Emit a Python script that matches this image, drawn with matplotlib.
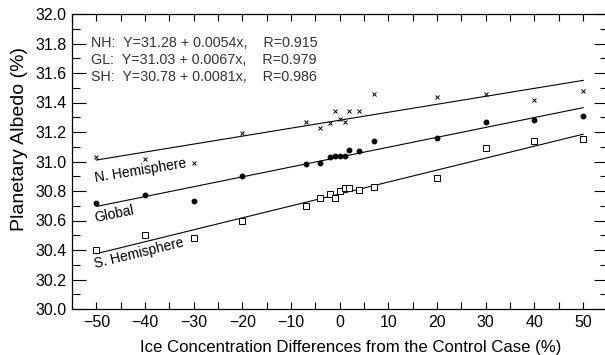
import numpy as np
import matplotlib
matplotlib.use('Agg')
import matplotlib.pyplot as plt
from matplotlib.ticker import MultipleLocator

plt.rcParams['font.family'] = ['Liberation Sans', 'DejaVu Sans']

# ice concentration change (%) for each experiment
ice_diff = [-50, -40, -30, -20, -7, -4, -2, -1, 0, 1, 2, 4, 7, 20, 30, 40, 50]
# planetary albedo (%)
albedo_nh = [31.03, 31.02, 30.99, 31.19, 31.27, 31.23, 31.26, 31.34, 31.29,
             31.27, 31.34, 31.34, 31.46, 31.44, 31.46, 31.42, 31.48]
albedo_gl = [30.72, 30.77, 30.73, 30.90, 30.98, 30.99, 31.03, 31.04, 31.04,
             31.04, 31.08, 31.07, 31.14, 31.16, 31.27, 31.28, 31.31]
albedo_sh = [30.40, 30.50, 30.48, 30.60, 30.70, 30.75, 30.78, 30.75, 30.80,
             30.82, 30.82, 30.81, 30.83, 30.89, 31.09, 31.14, 31.15]

# regression fits printed in the figure: (intercept, slope, R)
fit_nh = (31.28, 0.0054, 0.915)
fit_gl = (31.03, 0.0067, 0.979)
fit_sh = (30.78, 0.0081, 0.986)

fig = plt.figure(figsize=(6.05, 3.55), dpi=100)
ax = fig.add_axes([72 / 605, 1 - 309 / 355, 535.5 / 605, 295 / 355])

x = np.array(ice_diff, dtype=float)
xf = np.array([-50.0, 50.0])
for (a, b, _r) in (fit_nh, fit_gl, fit_sh):
    ax.plot(xf, a + b * xf, color='black', lw=0.8)

ax.plot(x, albedo_nh, 'x', color='black', ms=3.5, mew=0.7)
ax.plot(x, albedo_gl, 'o', color='black', ms=3.2)
ax.plot(x, albedo_sh, 's', mfc='white', mec='black', ms=4, mew=0.7)

ax.set_xlim(-55, 55)
ax.set_ylim(30.0, 32.0)
ax.xaxis.set_major_locator(MultipleLocator(10))
ax.xaxis.set_minor_locator(MultipleLocator(5))
ax.yaxis.set_major_locator(MultipleLocator(0.2))
ax.yaxis.set_minor_locator(MultipleLocator(0.1))
ax.yaxis.set_major_formatter(lambda v, _p: f'{v:.1f}')
ax.tick_params(which='both', direction='in', top=True, right=True,
               labelsize=11.5, width=0.8, pad=4)
ax.tick_params(axis='x', which='major', length=5)
ax.tick_params(axis='x', which='minor', length=5)
ax.tick_params(axis='y', which='major', length=10)
ax.tick_params(axis='y', which='minor', length=6)
for s in ax.spines.values():
    s.set_linewidth(0.9)

ax.set_xlabel('Ice Concentration Differences from the Control Case (%)',
              fontsize=12.1)
ax.xaxis.set_label_coords(0.521, -0.104)
ax.set_ylabel('Planetary Albedo (%)', fontsize=14)
ax.yaxis.set_label_coords(-0.082, 0.576)

eq_y = [31.773, 31.661, 31.549]
for tag, (a, b, r), yy in zip(['NH', 'GL', 'SH'], [fit_nh, fit_gl, fit_sh], eq_y):
    ax.text(-51.0, yy, f'{tag}:  Y={a:.2f} + {b:.4f}x,    R={r:.3f}',
            fontsize=10.3, color='#333333', ha='left', va='baseline')

ax.text(-50.1, 30.863, 'N. Hemisphere', fontsize=10, rotation=9.2,
        rotation_mode='anchor', ha='left', va='baseline')
ax.text(-50.3, 30.592, 'Global', fontsize=10, rotation=11.4,
        rotation_mode='anchor', ha='left', va='baseline')
ax.text(-50.3, 30.276, 'S. Hemisphere', fontsize=10, rotation=13.7,
        rotation_mode='anchor', ha='left', va='baseline')

fig.savefig('out.png', dpi=100)
